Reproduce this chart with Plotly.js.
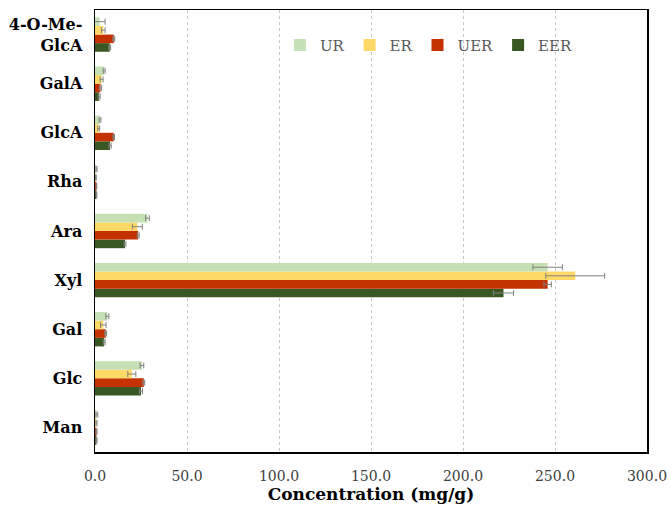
<!DOCTYPE html>
<html>
<head>
<meta charset="utf-8">
<script src="https://cdn.plot.ly/plotly-3.0.1.min.js"></script>
<style>html,body{margin:0;padding:0;background:#fff;}#chart{width:672px;height:505px;}</style>
</head>
<body>
<div id="chart"></div>
<script>
// Categories listed bottom to top
const categories = ["Man", "Glc", "Gal", "Xyl", "Ara", "Rha", "GlcA", "GalA", "4-O-Me-<br>GlcA"];
const seriesNames = ["UR", "ER", "UER", "EER"];
const UR  = [1.0, 25.5, 6.7, 246.0, 28.5, 0.8, 2.7, 5.0, 2.5];
const ER  = [0.8, 20.0, 4.5, 261.0, 23.0, 0.5, 2.0, 3.6, 4.5];
const UER = [0.8, 26.5, 5.8, 246.0, 23.5, 0.8, 10.2, 3.0, 10.2];
const EER = [0.8, 25.0, 5.0, 222.0, 16.3, 0.8, 8.2, 2.3, 8.0];
const UR_err  = [0.5, 1.0, 0.8, 8.0, 1.0, 0.3, 0.5, 0.5, 3.0];
const ER_err  = [0.3, 2.2, 1.5, 16.0, 2.7, 0.2, 0.5, 0.8, 1.0];
const UER_err = [0.3, 0.5, 0.5, 2.0, 0.5, 0.2, 0.4, 0.6, 0.5];
const EER_err = [0.3, 0.8, 0.5, 5.5, 0.5, 0.2, 0.6, 0.5, 0.5];
const xTicks = [0, 50, 100, 150, 200, 250, 300];

const colors = {UR: "#c5e0b4", ER: "#ffd966", UER: "#c33200", EER: "#385723"};
const vals = {UR: UR, ER: ER, UER: UER, EER: EER};
const errs = {UR: UR_err, ER: ER_err, UER: UER_err, EER: EER_err};

const order = ["EER", "UER", "ER", "UR"]; // bottom to top within group
const data = order.map(name => ({
  type: "bar",
  orientation: "h",
  name: name,
  y: categories,
  x: vals[name],
  marker: {color: colors[name]},
  error_x: {type: "data", array: errs[name], visible: true, color: "#808080", thickness: 1, width: 3}
}));

const serif = "DejaVu Serif, Georgia, serif";
const layout = {
  width: 672, height: 505,
  margin: {l: 95, r: 25, t: 10, b: 53},
  paper_bgcolor: "#fff", plot_bgcolor: "#fff",
  barmode: "group",
  bargap: 0.3,
  bargroupgap: 0,
  showlegend: true,
  legend: {
    orientation: "h", traceorder: "reversed",
    x: 0.335, y: 0.92, xanchor: "left", yanchor: "middle",
    font: {family: serif, size: 15, color: "#595959"},
    itemwidth: 30, bgcolor: "rgba(0,0,0,0)"
  },
  xaxis: {
    range: [0, 300], tickvals: xTicks, tickformat: ".1f",
    showgrid: true, gridcolor: "#c8c8c8", gridwidth: 1, griddash: "dot",
    showline: true, linecolor: "#000", linewidth: 1.5, mirror: true,
    ticks: "outside", ticklen: 11, tickcolor: "rgba(0,0,0,0)", zeroline: false,
    tickfont: {family: serif, size: 14, color: "#404040"},
    title: {text: "<b>Concentration (mg/g)</b>", font: {family: serif, size: 17, color: "#000"}, standoff: 0}
  },
  yaxis: {
    type: "category",
    showline: true, linecolor: "#000", linewidth: 1.5, mirror: true,
    showgrid: false, ticks: "", zeroline: false,
    tickfont: {family: serif, size: 16, color: "#000", weight: "bold"},
    ticklabelstandoff: 8
  }
};

Plotly.newPlot("chart", data, layout, {displayModeBar: false, staticPlot: true});
</script>
</body>
</html>
